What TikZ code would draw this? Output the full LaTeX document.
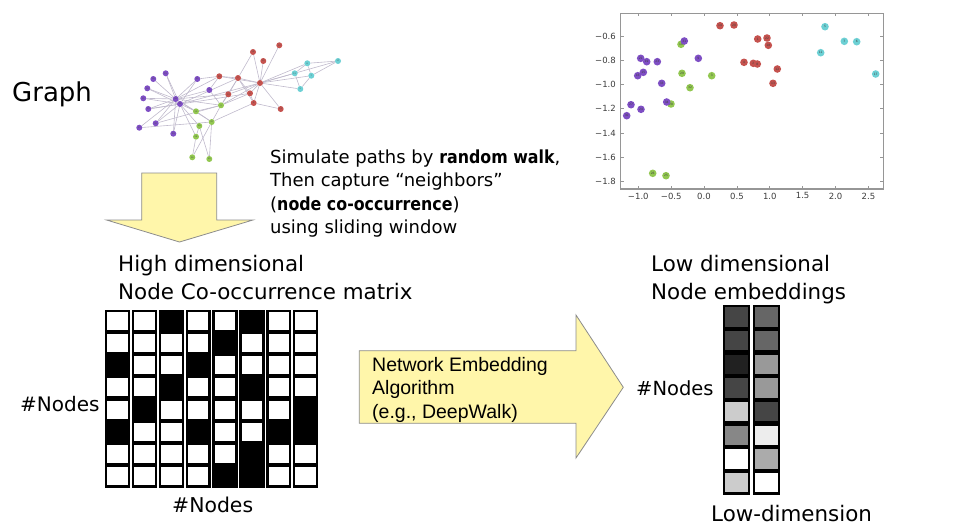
\documentclass[tikz,border=0pt]{standalone}
\usepackage{fontspec}
\setmainfont{DejaVu Sans}[BoldFeatures={FakeStretch=0.88}]
\newfontfamily\arialfont{Liberation Sans}
\usetikzlibrary{backgrounds}
\definecolor{arrowfill}{RGB}{255,246,170}
\definecolor{arrowline}{RGB}{140,140,140}
\definecolor{cpurple}{RGB}{126,78,196}
\definecolor{cred}{RGB}{197,82,78}
\definecolor{ccyan}{RGB}{108,208,212}
\definecolor{cgreen}{RGB}{146,199,80}
\definecolor{edgecol}{RGB}{192,186,204}
\definecolor{framecol}{RGB}{150,150,150}
\definecolor{ticktext}{RGB}{60,60,60}
\begin{document}
\begin{tikzpicture}[x=1pt,y=-1pt,
  label text/.style={inner sep=0pt, anchor=base west, font=\fontsize{21.4}{25}\selectfont},
  note text/.style={inner sep=0pt, anchor=base west, font=\fontsize{18}{22}\selectfont},
  algo text/.style={inner sep=0pt, anchor=base west, font=\arialfont\fontsize{19.5}{23}\selectfont},
  block arrow/.style={fill=arrowfill, draw=arrowline, line width=0.8pt, line join=miter},
  gnode/.style={circle, inner sep=0pt, minimum size=6pt, fill=#1, text=black!70,
                font=\fontsize{2}{2}\selectfont},
  snode/.style={circle, inner sep=0pt, minimum size=7.6pt, fill=#1, text=black!75,
                font=\fontsize{3}{3}\selectfont},
  gedge/.style={draw=edgecol, line width=0.6pt},
  tick label/.style={inner sep=0pt, text=ticktext, font=\fontsize{8.5}{9}\selectfont},
]
\useasboundingbox (0,0) rectangle (956,525);

% ---------- karate-club graph ----------
\node[gnode=cpurple] (gp1) at (165.7,73.3) {15};
\node[gnode=cpurple] (gp2) at (153.3,79) {16};
\node[gnode=cpurple] (gp3) at (147.3,88.3) {19};
\node[gnode=cpurple] (gp4) at (143.3,98.3) {21};
\node[gnode=cpurple] (gp5) at (148.3,109) {23};
\node[gnode=cpurple] (gp6) at (139.3,127.7) {27};
\node[gnode=cpurple] (gp7) at (155.7,123.3) {30};
\node[gnode=cpurple] (gp8) at (173.3,133.7) {24};
\node[gnode=cpurple] (gh1) at (175.7,99) {34};
\node[gnode=cpurple] (gh2) at (180,104) {33};
\node[gnode=cpurple] (gp9) at (197.3,79) {31};
\node[gnode=cpurple] (gp10) at (209.3,90) {9};
\node[gnode=cgreen] (gg1) at (221,105.3) {3};
\node[gnode=cgreen] (gg2) at (196,111.3) {10};
\node[gnode=cgreen] (gg3) at (211.7,122) {32};
\node[gnode=cgreen] (gg4) at (199.3,126) {29};
\node[gnode=cgreen] (gg5) at (196,136.7) {28};
\node[gnode=cgreen] (gg6) at (192.3,157.3) {26};
\node[gnode=cgreen] (gg7) at (209.3,159) {25};
\node[gnode=cred] (gr1) at (219.3,76.3) {20};
\node[gnode=cred] (gr2) at (238,78) {2};
\node[gnode=cred] (gr3) at (260,83) {1};
\node[gnode=cred] (gr4) at (253,52) {18};
\node[gnode=cred] (gr5) at (263.3,61) {22};
\node[gnode=cred] (gr6) at (279.3,45.3) {12};
\node[gnode=cred] (gr7) at (228.3,94.3) {14};
\node[gnode=cred] (gr8) at (250,93.3) {4};
\node[gnode=cred] (gr9) at (253.7,103) {8};
\node[gnode=cred] (gr10) at (280.7,109) {13};
\node[gnode=ccyan] (gc1) at (307.3,63.3) {6};
\node[gnode=ccyan] (gc2) at (338,61) {17};
\node[gnode=ccyan] (gc3) at (294.7,73.3) {11};
\node[gnode=ccyan] (gc4) at (311.3,75.7) {7};
\node[gnode=ccyan] (gc5) at (300.3,89) {5};

\begin{pgfonlayer}{background}
\foreach \a/\b in {gh1/gp1,gh1/gp2,gh1/gp3,gh1/gp4,gh1/gp5,gh1/gp6,gh1/gp7,gh1/gp8,
    gh1/gp9,gh1/gp10,gh1/gh2,gh1/gg2,gh1/gg3,gh1/gr1,gh1/gr7,gh1/gg1,
    gh2/gp1,gh2/gp3,gh2/gp4,gh2/gp5,gh2/gp7,gh2/gp8,gh2/gp9,gh2/gg2,gh2/gg4,gh2/gg5,
    gh2/gr3,gh2/gr2,gp7/gg1,gp6/gg3,gp5/gr8,
    gr3/gr2,gr3/gr4,gr3/gr5,gr3/gr6,gr3/gr8,gr3/gr9,gr3/gr10,gr3/gc1,gr3/gc3,gr3/gc4,
    gr3/gc5,gr3/gg1,gr3/gr7,gr3/gr1,gr3/gc2,
    gr2/gr1,gr2/gr4,gr2/gr7,gr2/gr8,gr2/gr9,gr2/gg1,gr1/gp9,gr1/gp10,
    gg1/gr7,gg1/gr8,gg1/gg3,gg1/gp10,gg1/gg2,gg3/gg6,gg3/gg7,gg3/gg2,gg3/gr9,
    gg5/gg6,gg5/gg4,gg4/gg7,gr9/gr10,gr9/gr8,
    gc1/gc2,gc1/gc3,gc1/gc4,gc2/gc4,gc5/gc3,gc5/gc4}
  \draw[gedge] (\a) -- (\b);
\end{pgfonlayer}

\node[label text, font=\fontsize{26}{30}\selectfont] (graphtitle) at (12,101) {Graph};

% ---------- 2-D embedding scatter plot ----------
\draw[framecol, line width=1.1pt] (620.7,13.3) rectangle (883.3,189);
\foreach \x/\t in {638.3/{−1.0},671.2/{−0.5},704/{0.0},736.9/{0.5},769.8/{1.0},802.6/{1.5},835.5/{2.0},868.4/{2.5}} {
  \draw[framecol, line width=0.7pt] (\x,13.3) -- ++(0,3) (\x,189) -- ++(0,-3);
  \node[tick label, anchor=north] at (\x,192.5) {\t};
}
\foreach \y/\t in {36.5/{−0.6},60.6/{−0.8},84.7/{−1.0},108.8/{−1.2},132.9/{−1.4},157/{−1.6},181.1/{−1.8}} {
  \draw[framecol, line width=0.7pt] (620.7,\y) -- ++(3,0) (883.3,\y) -- ++(-3,0);
  \node[tick label, anchor=east] at (616,\y) {\t};
}
\foreach \x/\y/\l in {720/25.7/14,734/25/20,757.7/39/1,767/38/22,768.3/45.3/18,744/62.3/4,
    753.3/63.3/2,757.3/64/8,777.3/69/12,773/83.3/13}
  \node[snode=cred] (s\l) at (\x,\y) {\l};
\foreach \x/\y/\l in {825/26.7/5,844.3/41.3/7,856.7/41.7/6,820.7/52.7/11,875.7/74/17}
  \node[snode=ccyan] (s\l) at (\x,\y) {\l};
\foreach \x/\y/\l in {681/44.3/10,682/73.3/29,711.7/75.7/3,690/87.7/32,671/104/28,
    652.7/173.3/26,666/175.7/25}
  \node[snode=cgreen] (s\l) at (\x,\y) {\l};
\foreach \x/\y/\l in {684.3/41/31,698.3/58.3/9,640.7/58.3/21,646.7/61.7/19,657.3/61.7/23,
    643.3/72.3/15,637.7/75.7/16,661.7/83.3/33,666.7/102/34,631/104.7/27,641/109.3/24,
    626.7/115.7/30}
  \node[snode=cpurple] (s\l) at (\x,\y) {\l};

% ---------- random-walk step ----------
\draw[block arrow] (141.7,173) -- (216.7,173) -- (216.7,220) -- (253,220)
  -- (179.5,242) -- (106.5,220) -- (141.7,220) -- cycle;
\node[note text] (walk1) at (270,163) {Simulate paths by \textbf{random walk},};
\node[note text] (walk2) at (270,186.5) {Then capture “neighbors”};
\node[note text] (walk3) at (270,210) {(\textbf{node co-occurrence})};
\node[note text] (walk4) at (270,233) {using sliding window};

% ---------- high dimensional co-occurrence matrix ----------
\node[label text] (hd1) at (118,271.7) {High dimensional};
\node[label text] (hd2) at (118,299.3) {Node Co-occurrence matrix};
\foreach \c/\pat in {0/{0,0,1,0,0,1,0,0},1/{0,0,0,0,1,0,0,0},2/{1,0,0,1,0,0,0,0},
    3/{0,0,1,0,0,1,0,0},4/{0,1,0,0,0,0,0,1},5/{1,0,0,1,0,0,1,1},
    6/{0,0,0,0,0,1,0,0},7/{0,0,0,0,1,1,0,0}} {
  \pgfmathsetmacro{\xo}{105+\c*26.85}
  \fill[black] (\xo,309.5) rectangle ++(25.3,178);
  \foreach \v [count=\r from 0] in \pat {
    \ifnum\v=0
      \fill[white] (\xo+2.4,309.5+\r*22.25+2.2) rectangle ++(20.5,17.9);
    \fi
  }
}
\node[label text, font=\fontsize{20}{24}\selectfont] (rowsl) at (20,411) {\#Nodes};
\node[label text, font=\fontsize{20.4}{24}\selectfont] (colsl) at (172,512) {\#Nodes};

% ---------- embedding algorithm ----------
\draw[block arrow] (359.3,350.7) -- (576,350.7) -- (576,315) -- (623.3,387.3)
  -- (576,458) -- (576,423.3) -- (359.3,423.3) -- cycle;
\node[algo text] (alg1) at (372,371.7) {Network Embedding};
\node[algo text] (alg2) at (372,394.5) {Algorithm};
\node[algo text] (alg3) at (372,418) {(e.g., DeepWalk)};

% ---------- low dimensional embeddings ----------
\node[label text] (ld1) at (651,271.7) {Low dimensional};
\node[label text] (ld2) at (651,299.3) {Node embeddings};
\foreach \c/\xo/\shades in {0/722.5/{73,73,87,73,20,47,0,20},1/752.7/{60,60,40,40,73,7,33,0}} {
  \fill[black] (\xo,305) rectangle ++(27.5,189.5);
  \foreach \k [count=\r from 0] in \shades
    \fill[black!\k] (\xo+2.3,305+\r*23.69+2.2) rectangle ++(22.9,19.3);
}
\node[label text, font=\fontsize{19.5}{24}\selectfont] (rowsr) at (636,395.7) {\#Nodes};
\node[label text] (lowdim) at (711,521.7) {Low-dimension};
\end{tikzpicture}
\end{document}
